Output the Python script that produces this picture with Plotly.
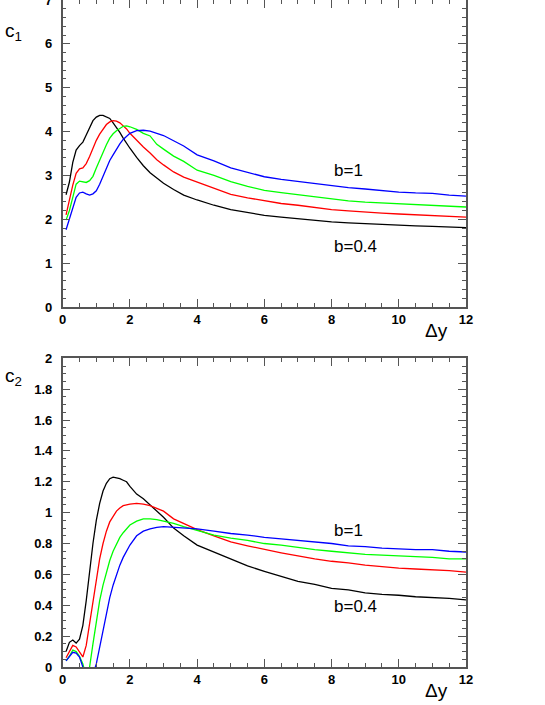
import plotly.graph_objects as go

# rapidity gap values, shared by all curves
dy = [0.1, 0.2, 0.3, 0.4, 0.5, 0.6, 0.7, 0.8, 0.9, 1.0, 1.1, 1.2, 1.3, 1.4, 1.5,
      1.6, 1.7, 1.8, 1.9, 2.0, 2.2, 2.4, 2.6, 2.8, 3.0, 3.3, 3.6, 4.0, 4.5, 5.0,
      5.5, 6.0, 6.5, 7.0, 7.5, 8.0, 8.5, 9.0, 9.5, 10.0, 10.5, 11.0, 11.5, 12.0]

# c1 curves (top panel)
c1_black = [2.56, 2.85, 3.3, 3.58, 3.68, 3.76, 3.92, 4.1, 4.25, 4.33, 4.37, 4.37, 4.33,
            4.3, 4.2, 4.1, 3.98, 3.85, 3.72, 3.62, 3.41, 3.22, 3.06, 2.93, 2.82, 2.68,
            2.55, 2.44, 2.32, 2.22, 2.15, 2.09, 2.05, 2.01, 1.97, 1.94, 1.92, 1.9,
            1.88, 1.87, 1.85, 1.84, 1.83, 1.81]
c1_red = [2.1, 2.45, 2.78, 3.05, 3.15, 3.17, 3.27, 3.43, 3.62, 3.8, 3.94, 4.06, 4.16,
          4.22, 4.25, 4.24, 4.2, 4.13, 4.06, 3.96, 3.8, 3.65, 3.51, 3.36, 3.24, 3.08,
          2.96, 2.85, 2.7, 2.57, 2.49, 2.42, 2.36, 2.32, 2.27, 2.22, 2.19, 2.16,
          2.14, 2.12, 2.1, 2.09, 2.07, 2.05]
c1_green = [1.98, 2.2, 2.5, 2.8, 2.87, 2.85, 2.84, 2.88, 2.98, 3.17, 3.36, 3.55, 3.7,
            3.85, 3.95, 4.02, 4.08, 4.12, 4.13, 4.11, 4.05, 3.96, 3.9, 3.71, 3.6, 3.44,
            3.32, 3.12, 3.0, 2.86, 2.75, 2.66, 2.61, 2.56, 2.51, 2.46, 2.42, 2.39,
            2.37, 2.35, 2.33, 2.32, 2.3, 2.28]
c1_blue = [1.76, 2.0, 2.28, 2.5, 2.6, 2.62, 2.58, 2.55, 2.58, 2.65, 2.8, 2.98, 3.17,
           3.34, 3.47, 3.6, 3.72, 3.82, 3.9, 3.96, 4.02, 4.03, 4.01, 3.96, 3.91, 3.79,
           3.67, 3.47, 3.33, 3.17, 3.07, 2.97, 2.91, 2.86, 2.81, 2.77, 2.72, 2.69,
           2.65, 2.62, 2.6, 2.59, 2.55, 2.53]

# c2 curves (bottom panel)
c2_black = [0.10, 0.16, 0.175, 0.155, 0.18, 0.27, 0.43, 0.62, 0.80, 0.95, 1.06, 1.14,
            1.19, 1.22, 1.23, 1.225, 1.22, 1.21, 1.2, 1.17, 1.12, 1.09, 1.05, 1.01,
            0.97, 0.9, 0.85, 0.79, 0.745, 0.70, 0.655, 0.62, 0.59, 0.555, 0.535, 0.51,
            0.50, 0.48, 0.47, 0.465, 0.455, 0.45, 0.445, 0.435]
c2_red = [0.06, 0.1, 0.14, 0.13, 0.1, 0.065, 0.14, 0.28, 0.44, 0.58, 0.70, 0.80, 0.88,
          0.94, 0.98, 1.01, 1.03, 1.045, 1.05, 1.055, 1.06, 1.055, 1.045, 1.03, 1.01,
          0.96, 0.93, 0.89, 0.85, 0.81, 0.785, 0.76, 0.74, 0.72, 0.70, 0.685, 0.675,
          0.66, 0.65, 0.64, 0.635, 0.63, 0.625, 0.615]
c2_green = [0.04, 0.07, 0.11, 0.1, 0.07, 0.02, -0.07, 0.0, 0.15, 0.30, 0.43, 0.53, 0.62,
            0.69, 0.75, 0.80, 0.84, 0.87, 0.895, 0.92, 0.945, 0.96, 0.96, 0.955, 0.945,
            0.93, 0.91, 0.885, 0.855, 0.835, 0.82, 0.80, 0.79, 0.775, 0.76, 0.75, 0.74,
            0.73, 0.725, 0.72, 0.715, 0.71, 0.70, 0.70]
c2_blue = [0.04, 0.07, 0.095, 0.09, 0.065, 0.0, -0.06, -0.09, -0.05, 0.02, 0.13, 0.25,
           0.36, 0.45, 0.53, 0.60, 0.66, 0.71, 0.75, 0.79, 0.85, 0.88, 0.895, 0.905,
           0.91, 0.905, 0.90, 0.895, 0.88, 0.865, 0.855, 0.84, 0.83, 0.82, 0.81, 0.80,
           0.785, 0.78, 0.77, 0.765, 0.76, 0.76, 0.75, 0.745]

colors = ["#000000", "#ff0000", "#00ff00", "#0000ff"]
top_series = [c1_black, c1_red, c1_green, c1_blue]
bottom_series = [c2_black, c2_red, c2_green, c2_blue]

fig = go.Figure()

for ys, col in zip(top_series, colors):
    fig.add_trace(go.Scatter(x=dy, y=ys, mode="lines", line=dict(color=col, width=1.3),
                             xaxis="x", yaxis="y", showlegend=False))
for ys, col in zip(bottom_series, colors):
    fig.add_trace(go.Scatter(x=dy, y=ys, mode="lines", line=dict(color=col, width=1.3),
                             xaxis="x2", yaxis="y2", showlegend=False))

tick_font = dict(family="Liberation Sans", size=13, color="black", weight="bold")
frame = dict(showline=True, linecolor="#555555", linewidth=1.5, mirror="ticks",
             ticks="inside", ticklen=8, tickcolor="#555555", tickwidth=1,
             showgrid=False, zeroline=False, tickfont=tick_font,
             ticklabeloverflow="allow", automargin=False)

xdom = [62.7 / 545, 466 / 545]
xaxis_common = dict(frame, range=[0, 12], dtick=2, tick0=0,
                    minor=dict(dtick=0.5, ticklen=4, ticks="inside", tickcolor="#555555"))

fig.update_layout(
    width=545, height=705,
    margin=dict(l=0, r=0, t=0, b=0),
    paper_bgcolor="white", plot_bgcolor="white",
    xaxis=dict(xaxis_common, domain=xdom, anchor="y"),
    yaxis=dict(frame, range=[0, 7], dtick=1, domain=[1 - 307 / 705, 1.0], anchor="x",
               ticklabelstandoff=6,
               minor=dict(dtick=0.2, ticklen=4, ticks="inside", tickcolor="#555555")),
    xaxis2=dict(xaxis_common, domain=xdom, anchor="y2"),
    yaxis2=dict(frame, range=[0, 2], dtick=0.2, domain=[1 - 667 / 705, 1 - 358.3 / 705],
                anchor="x2", ticklabelstandoff=6,
                minor=dict(dtick=0.05, ticklen=4, ticks="inside", tickcolor="#555555")),
)

label_font = dict(family="Liberation Sans", size=19, color="black")
note_font = dict(family="Liberation Sans", size=17, color="black")

annotations = [
    # axis titles
    dict(text="c<sub>1</sub>", x=3 / 545, y=1 - 32 / 705, xanchor="left", yanchor="middle"),
    dict(text="Δy", x=436 / 545, y=1 - 330 / 705, xanchor="center", yanchor="middle"),
    dict(text="c<sub>2</sub>", x=3 / 545, y=1 - 377 / 705, xanchor="left", yanchor="middle"),
    dict(text="Δy", x=436 / 545, y=1 - 690 / 705, xanchor="center", yanchor="middle"),
]
for a in annotations:
    a.update(xref="paper", yref="paper", showarrow=False, font=label_font)

curve_labels = [
    dict(text="b=1", x=8.0, y=3.12, xref="x", yref="y"),
    dict(text="b=0.4", x=8.0, y=1.39, xref="x", yref="y"),
    dict(text="b=1", x=8.0, y=0.887, xref="x2", yref="y2"),
    dict(text="b=0.4", x=8.0, y=0.39, xref="x2", yref="y2"),
]
for a in curve_labels:
    a.update(showarrow=False, xanchor="left", yanchor="middle", font=note_font)

fig.update_layout(annotations=annotations + curve_labels)

# drop the default page margin so the figure sits at the window origin
fig.write_html("out.html", config={"displayModeBar": False},
               post_script="document.body.style.margin='0';")
